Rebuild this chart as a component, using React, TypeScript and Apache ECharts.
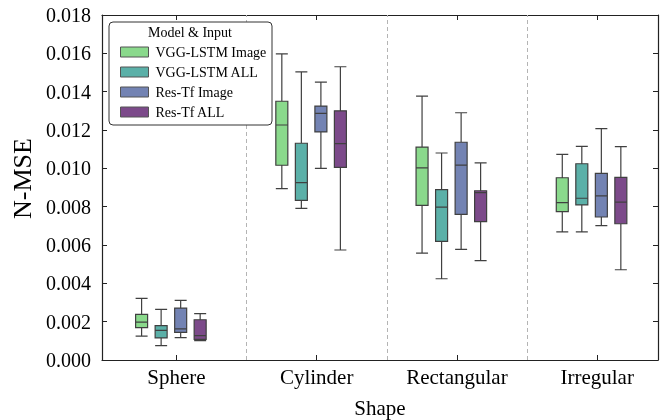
import React, { useEffect, useRef } from "react";
import * as echarts from "echarts";

// Categories and series names
const shapes = ["Sphere", "Cylinder", "Rectangular", "Irregular"];
const seriesNames = ["VGG-LSTM Image", "VGG-LSTM ALL", "Res-Tf Image", "Res-Tf ALL"];

// Box statistics per shape: [min, Q1, median, Q3, max]
const vggLstmImage = [
  [0.00125, 0.00169, 0.00198, 0.00238, 0.00322],
  [0.00894, 0.01016, 0.01226, 0.0135, 0.01597],
  [0.00558, 0.00807, 0.01002, 0.01111, 0.01377],
  [0.00668, 0.00774, 0.00821, 0.00951, 0.01073],
];
const vggLstmAll = [
  [0.00075, 0.00115, 0.00155, 0.00179, 0.00264],
  [0.00791, 0.00833, 0.00925, 0.01131, 0.01503],
  [0.00424, 0.00619, 0.00798, 0.00889, 0.0108],
  [0.00668, 0.00809, 0.00844, 0.01024, 0.01115],
];
const resTfImage = [
  [0.00117, 0.00144, 0.00162, 0.00271, 0.00311],
  [0.01, 0.0119, 0.01287, 0.01325, 0.0145],
  [0.00577, 0.0076, 0.01017, 0.01136, 0.0129],
  [0.00701, 0.00746, 0.00856, 0.00974, 0.01207],
];
const resTfAll = [
  [0.00101, 0.00108, 0.00127, 0.0021, 0.00242],
  [0.00574, 0.01005, 0.01129, 0.013, 0.0153],
  [0.00518, 0.00722, 0.00873, 0.00883, 0.01028],
  [0.00471, 0.00711, 0.00824, 0.00953, 0.01113],
];

const separators = [0.5, 1.5, 2.5];

// Layout / style constants
const allStats = [vggLstmImage, vggLstmAll, resTfImage, resTfAll];
const dodge = [-0.2486, -0.1093, 0.03, 0.169];
const colors = ["#8ad98c", "#5bb0a8", "#7383b3", "#7c4a8a"];
const X_MIN = -0.531;
const X_MAX = 3.434;
const FONT = "'Liberation Serif', 'Times New Roman', serif";

export default function App() {
  const ref = useRef<HTMLDivElement>(null);
  useEffect(() => {
    if (!ref.current) return;
    const chart = echarts.init(ref.current, null, { renderer: "svg" });
    const catIdx = shapes.map((_, i) => i);
    const axisLine = { show: true, onZero: false, lineStyle: { color: "#222", width: 1.2 } };
    const tick = { show: true, inside: true, length: 5, lineStyle: { color: "#222" } };

    const hiddenX = allStats.map(() => ({
      type: "value",
      show: false,
      min: X_MIN,
      max: X_MAX,
      position: "bottom",
      axisLine: { onZero: false },
    }));

    const series: any[] = allStats.map((stats, k) => ({
      name: seriesNames[k],
      type: "boxplot",
      layout: "horizontal",
      xAxisIndex: 2 + k,
      yAxisIndex: 0,
      boxWidth: [12, 12],
      itemStyle: { color: colors[k], borderColor: "#404040", borderWidth: 1.2 },
      data: stats.map((s, i) => [i + dodge[k], ...s]),
      markLine:
        k === 0
          ? {
              silent: true,
              symbol: ["none", "none"],
              label: { show: false },
              lineStyle: { type: [4, 3], color: "#b4b4b4", width: 1 },
              data: separators.map((v) => ({ xAxis: v })),
            }
          : undefined,
      z: 2,
    }));

    chart.setOption({
      animation: false,
      textStyle: { fontFamily: FONT },
      grid: { left: 102, right: 8, top: 15, bottom: 60, outerBoundsMode: "none", containLabel: false },
      xAxis: [
        {
          type: "value",
          min: X_MIN,
          max: X_MAX,
          position: "bottom",
          name: "Shape",
          nameLocation: "middle",
          nameGap: 37,
          nameTextStyle: { fontFamily: FONT, fontSize: 21, color: "#000" },
          axisLine,
          axisTick: { ...tick, customValues: catIdx },
          axisLabel: {
            customValues: catIdx,
            formatter: (v: number) => shapes[Math.round(v)] ?? "",
            fontFamily: FONT,
            fontSize: 21,
            color: "#000",
            margin: 6,
          },
          splitLine: { show: false },
        },
        {
          type: "value",
          min: X_MIN,
          max: X_MAX,
          position: "top",
          axisLine,
          axisTick: { ...tick, customValues: catIdx },
          axisLabel: { show: false },
          splitLine: { show: false },
        },
        ...hiddenX,
      ],
      yAxis: [
        {
          type: "value",
          min: 0,
          max: 0.018,
          interval: 0.002,
          position: "left",
          name: "N-MSE",
          nameLocation: "middle",
          nameGap: 63,
          nameTextStyle: { fontFamily: FONT, fontSize: 26, color: "#000", padding: [0, 0, 0, 18] },
          axisLine,
          axisTick: tick,
          axisLabel: {
            formatter: (v: number) => v.toFixed(3),
            fontFamily: FONT,
            fontSize: 20,
            color: "#000",
            margin: 11,
          },
          splitLine: { show: false },
        },
        {
          type: "value",
          min: 0,
          max: 0.018,
          interval: 0.002,
          position: "right",
          axisLine,
          axisTick: tick,
          axisLabel: { show: false },
          splitLine: { show: false },
        },
      ],
      legend: {
        data: seriesNames.map((n, k) => ({
          name: n,
          itemStyle: { color: colors[k], borderColor: "#555", borderWidth: 1 },
        })),
        orient: "vertical",
        left: 115,
        top: 39,
        itemWidth: 28,
        itemHeight: 10,
        itemGap: 4,
        icon: "rect",
        z: 10,
        textStyle: { fontFamily: FONT, fontSize: 14, color: "#000", lineHeight: 16, padding: [0, 0, 0, 2] },
      },
      graphic: [
        {
          type: "rect",
          z: 8,
          shape: { x: 109, y: 22, width: 163, height: 103, r: 4 },
          style: { fill: "#fff", stroke: "#333", lineWidth: 1 },
        },
        {
          type: "text",
          z: 12,
          x: 190,
          y: 32,
          style: {
            text: "Model & Input",
            fontFamily: FONT,
            fontSize: 14,
            fill: "#000",
            align: "center",
            verticalAlign: "middle",
          },
        },
      ],
      series,
    });
    return () => chart.dispose();
  }, []);
  return <div ref={ref} style={{ position: "fixed", left: 0, top: 0, width: 666, height: 420 }} />;
}
